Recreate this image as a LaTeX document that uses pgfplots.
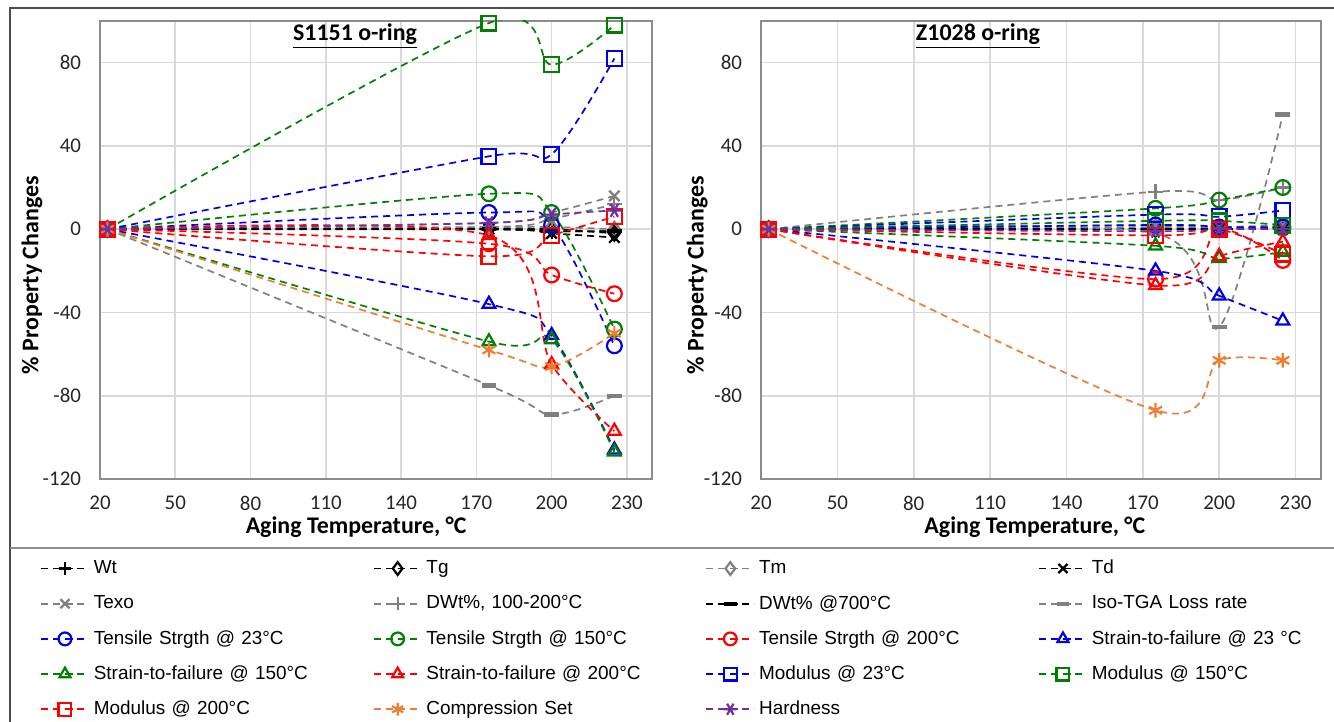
\documentclass[border=0pt]{standalone}
\usepackage{fontspec}
\setmainfont{Carlito}
\newfontfamily\legfont{Liberation Sans}
\usepackage{pgfplots}
\pgfplotsset{compat=1.18}

\definecolor{cblue}{RGB}{0,0,230}
\definecolor{cgreen}{RGB}{0,128,0}
\definecolor{cred}{RGB}{255,0,0}
\definecolor{corange}{RGB}{237,125,49}
\definecolor{cpurple}{RGB}{112,48,160}
\definecolor{cgray}{RGB}{128,128,128}
\definecolor{framegray}{RGB}{140,140,140}
\definecolor{gridgray}{RGB}{217,217,217}

\pgfplotsset{
  myaxis/.style={
    scale only axis, height=229bp,
    xmin=20, xmax=240, ymin=-120, ymax=100,
    xtick={20,50,...,230}, ytick={-120,-80,...,80},
    grid=major, major grid style={gridgray, line width=0.8bp},
    axis line style={framegray, line width=1.2bp},
    tick style={draw=none},
    tick label style={font=\fontsize{10.5}{12}\selectfont, text=black!85},
    /pgf/number format/assume math mode=true,
    xticklabel style={yshift=-5bp},
    yticklabel style={xshift=-6bp},
    xlabel={Aging Temperature, °C},
    ylabel={\% Property Changes},
    label style={font=\bfseries\fontsize{12}{14}\selectfont},
    title style={font=\bfseries\fontsize{12}{14}\selectfont, anchor=center},
    clip=true,
  },
  ser/.style={line width=0.85bp, dash pattern=on 3.5bp off 2.5bp, smooth, mark size=3.7bp, mark options={solid, line width=1.1bp, fill=none}},
  pWt/.style={ser, black, mark=+},
  pTg/.style={ser, black, mark=diamond},
  pTm/.style={ser, cgray, mark=diamond},
  pTd/.style={ser, black, mark=x},
  pTexo/.style={ser, cgray, mark=x},
  pDWa/.style={ser, cgray, mark=+},
  pDWb/.style={ser, black, mark=-, mark options={solid, line width=2.2bp, fill=none}},
  pIso/.style={ser, cgray, mark=-, mark options={solid, line width=2.2bp, fill=none}},
  pTSa/.style={ser, cblue, mark=o},
  pTSb/.style={ser, cgreen, mark=o},
  pTSc/.style={ser, cred, mark=o},
  pSFa/.style={ser, cblue, mark=triangle},
  pSFb/.style={ser, cgreen, mark=triangle},
  pSFc/.style={ser, cred, mark=triangle},
  pMa/.style={ser, cblue, mark=square},
  pMb/.style={ser, cgreen, mark=square},
  pMc/.style={ser, cred, mark=square},
  pCS/.style={ser, corange, mark=asterisk},
  pHd/.style={ser, cpurple, mark=asterisk, mark options={solid, line width=1.1bp, rotate=90}},
  legend image code/.code={
    \draw[mark repeat=2,mark phase=2, mark size=3.2bp] plot coordinates {(0bp,0bp) (12bp,0bp) (24bp,0bp)};
  },
}

\begin{document}
\begin{tikzpicture}
\useasboundingbox (0,0) rectangle (667bp,361bp);
\draw[black!70, line width=1bp] (5bp,-3bp) rectangle (672bp,357bp);
\draw[black!45, line width=0.8bp] (5bp,87bp) -- (672bp,87bp);

\begin{axis}[myaxis, width=276bp, at={(50bp,121.5bp)}, anchor=south west,
  title={\underline{S1151 o-ring}},
  title style={at={(axis description cs:0.462,0.941)}},
  xlabel style={at={(axis description cs:0.464,-0.105)}, anchor=center},
  ylabel style={at={(axis description cs:-0.123,0.445)}, anchor=center},
  legend columns=4, legend cell align=left,
  legend style={at={(axis description cs:-0.12,-0.159)}, anchor=north west,
    draw=none, fill=none, font=\legfont\fontsize{9.5}{11}\selectfont,
    nodes={text width=137.5bp, align=left}, row sep=5.25bp},
]
\addplot[pWt] coordinates {(23,0) (175,0) (200,-1) (225,-1)}; \addlegendentry{Wt}
\addplot[pTg] coordinates {(23,0) (175,0) (200,0) (225,-2)}; \addlegendentry{Tg}
\addplot[pTm] coordinates {(23,0) (175,1) (200,1) (225,0)}; \addlegendentry{Tm}
\addplot[pTd] coordinates {(23,0) (175,0) (200,-2) (225,-4)}; \addlegendentry{Td}
\addplot[pTexo] coordinates {(23,0) (175,3) (200,8) (225,16)}; \addlegendentry{Texo}
\addplot[pDWa] coordinates {(23,0) (175,1) (200,5) (225,12)}; \addlegendentry{DWt\%, 100-200°C}
\addplot[pDWb] coordinates {(23,0) (175,0) (200,-1) (225,-1)}; \addlegendentry{DWt\% @700°C}
\addplot[pIso] coordinates {(23,0) (175,-75) (200,-89) (225,-80)}; \addlegendentry{Iso-TGA Loss rate}
\addplot[pTSa] coordinates {(23,0) (175,8) (200,2) (225,-56)}; \addlegendentry{Tensile Strgth @ 23°C}
\addplot[pTSb] coordinates {(23,0) (175,17) (200,8) (225,-48)}; \addlegendentry{Tensile Strgth @ 150°C}
\addplot[pTSc] coordinates {(23,0) (175,-7) (200,-22) (225,-31)}; \addlegendentry{Tensile Strgth @ 200°C}
\addplot[pSFa] coordinates {(23,0) (175,-36) (200,-51) (225,-106)}; \addlegendentry{Strain-to-failure @ 23 °C}
\addplot[pSFb] coordinates {(23,0) (175,-54) (200,-53) (225,-107)}; \addlegendentry{Strain-to-failure @ 150°C}
\addplot[pSFc] coordinates {(23,0) (175,-3) (200,-65) (225,-97)}; \addlegendentry{Strain-to-failure @ 200°C}
\addplot[pMa] coordinates {(23,0) (175,35) (200,36) (225,82)}; \addlegendentry{Modulus @ 23°C}
\addplot[pMb] coordinates {(23,0) (175,99) (200,79) (225,98)}; \addlegendentry{Modulus @ 150°C}
\addplot[pMc] coordinates {(23,0) (175,-13) (200,-3) (225,6)}; \addlegendentry{Modulus @ 200°C}
\addplot[pCS] coordinates {(23,0) (175,-58) (200,-66) (225,-50)}; \addlegendentry{Compression Set}
\addplot[pHd] coordinates {(23,0) (175,3) (200,7) (225,9)}; \addlegendentry{Hardness}
\end{axis}

\begin{axis}[myaxis, width=280bp, at={(380.5bp,121.5bp)}, anchor=south west,
  title={\underline{Z1028 o-ring}},
  title style={at={(axis description cs:0.3875,0.941)}},
  xlabel style={at={(axis description cs:0.489,-0.105)}, anchor=center},
  ylabel style={at={(axis description cs:-0.114,0.445)}, anchor=center},
]
\addplot[pWt] coordinates {(23,0) (175,0) (200,0) (225,0)};
\addplot[pTg] coordinates {(23,0) (175,0) (200,0) (225,1)};
\addplot[pTm] coordinates {(23,0) (175,1) (200,1) (225,1)};
\addplot[pTd] coordinates {(23,0) (175,0) (200,0) (225,0)};
\addplot[pTexo] coordinates {(23,0) (175,2) (200,1) (225,2)};
\addplot[pDWa] coordinates {(23,0) (175,18) (200,14) (225,20)};
\addplot[pDWb] coordinates {(23,0) (175,0) (200,0) (225,0)};
\addplot[pIso] coordinates {(23,0) (175,-2) (200,-47) (225,55)};
\addplot[pTSa] coordinates {(23,0) (175,2) (200,1) (225,1)};
\addplot[pTSb] coordinates {(23,0) (175,10) (200,14) (225,20)};
\addplot[pTSc] coordinates {(23,0) (175,-24) (200,0) (225,-15)};
\addplot[pSFa] coordinates {(23,0) (175,-20) (200,-32) (225,-44)};
\addplot[pSFb] coordinates {(23,0) (175,-8) (200,-14) (225,-11)};
\addplot[pSFc] coordinates {(23,0) (175,-27) (200,-13) (225,-6)};
\addplot[pMa] coordinates {(23,0) (175,7) (200,6) (225,9)};
\addplot[pMb] coordinates {(23,0) (175,4) (200,4) (225,2)};
\addplot[pMc] coordinates {(23,0) (175,-3) (200,0) (225,-12)};
\addplot[pCS] coordinates {(23,0) (175,-87) (200,-63) (225,-63)};
\addplot[pHd] coordinates {(23,0) (175,-1) (200,0) (225,0)};
\end{axis}
\end{tikzpicture}
\end{document}
